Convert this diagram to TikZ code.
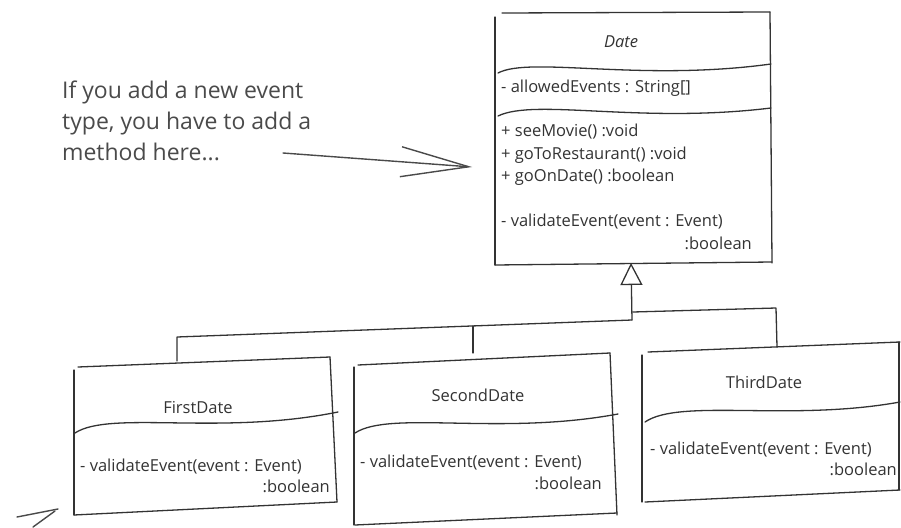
\documentclass[tikz,border=0pt]{standalone}
\usepackage{fontspec}
\setmainfont{Open Sans}
\usetikzlibrary{arrows.meta}
\definecolor{ink}{HTML}{333333}
\definecolor{pencil}{HTML}{4A4A4A}
\tikzset{
  stroke/.style={draw=ink, line width=1.3pt, line cap=round, line join=round},
  member/.style={inner sep=0pt, anchor=west, text=ink, font=\fontsize{16.5}{18}\selectfont},
  rtype/.style={inner sep=0pt, anchor=east, text=ink, font=\fontsize{16.5}{18}\selectfont},
  cname/.style={inner sep=0pt, text=ink, font=\fontsize{16.5}{18}\selectfont},
  note/.style={inner sep=0pt, anchor=west, text=pencil, font=\fontsize{23}{31}\selectfont, align=left},
}
\begin{document}
\begin{tikzpicture}[x=1pt,y=-1pt]
\useasboundingbox (0,0) rectangle (901,527);

% ---------- Date ----------
\draw[stroke] (502,13) -- (770,12);
\draw[stroke] (770,12) -- (772,263);
\draw[stroke] (495,265) -- (772,262);
\draw[stroke] (495,17) -- (495,265);
\draw[stroke] (498,73) .. controls (530,56) and (640,82) .. (771,64);
\draw[stroke] (498,116) .. controls (535,98) and (640,124) .. (771,108);
\node[cname, font=\fontsize{16.5}{18}\selectfont\itshape] (dtitle) at (621,42) {Date};
\node[member] (dattr) at (501,88) {- allowedEvents : String[]};
\node[member] (dm1) at (501,132) {+ seeMovie() :void};
\node[member] (dm2) at (501,155) {+ goToRestaurant() :void};
\node[member] (dm3) at (501,177) {+ goOnDate() :boolean};
\node[member] (dm4) at (501,222) {- validateEvent(event : Event)};
\node[rtype] (dm5) at (752,243) {:boolean};

% ---------- FirstDate ----------
\draw[stroke] (78,367) -- (330,357);
\draw[stroke] (330,357) -- (337,502);
\draw[stroke] (74,515) -- (337,502);
\draw[stroke] (74,370) -- (74,515);
\draw[stroke] (75,433) .. controls (110,410) and (220,436) .. (338,412);
\node[cname] (ftitle) at (198,408) {FirstDate};
\node[member] (fm1) at (80,467) {- validateEvent(event : Event)};
\node[rtype] (fm2) at (330,486) {:boolean};

% ---------- SecondDate ----------
\draw[stroke] (358,365) -- (610,353);
\draw[stroke] (610,353) -- (617,515);
\draw[stroke] (355,525) -- (617,513);
\draw[stroke] (354,367) -- (354,525);
\draw[stroke] (355,433) .. controls (390,410) and (500,436) .. (618,414);
\node[cname] (stitle) at (478,395) {SecondDate};
\node[member] (sm1) at (360,463) {- validateEvent(event : Event)};
\node[rtype] (sm2) at (602,483) {:boolean};

% ---------- ThirdDate ----------
\draw[stroke] (648,352) -- (900,342);
\draw[stroke] (642,355) -- (642,502);
\draw[stroke] (645,502) -- (900,490);
\draw[stroke] (899,342) -- (899,490);
\draw[stroke] (645,422) .. controls (680,398) and (790,422) .. (900,402);
\node[cname] (ttitle) at (764,382) {ThirdDate};
\node[member] (tm1) at (650,450) {- validateEvent(event : Event)};
\node[rtype] (tm2) at (897,469) {:boolean};

% ---------- generalisation ----------
\coordinate (apex) at (631,263);
\coordinate (stem) at (632,320);
\coordinate (fcorner) at (177,337);
\coordinate (ftop) at (177,361);
\coordinate (sjoin) at (473,326);
\coordinate (stop) at (473,353);
\coordinate (tstart) at (633,312);
\coordinate (tcorner) at (776,308);
\coordinate (ttop) at (777,347);
\draw[stroke, -{Triangle[open, length=22pt, width=22pt, line width=1.3pt]}] (stem) -- (apex);
\draw[stroke] (ftop) -- (fcorner) -- (stem);
\draw[stroke] (sjoin) -- (stop);
\draw[stroke] (tstart) -- (tcorner) -- (ttop);

% ---------- annotation ----------
\node[note] (note) at (62,121) {If you add a new event\\type, you have to add a\\method here...};
\coordinate (arrs) at (283,153);
\coordinate (arre) at (472,167);
\draw[draw=pencil, line width=1.4pt, line cap=round, -{Straight Barb[length=68pt, width=30pt, line width=1.4pt]}] (arrs) -- (arre);

% ---------- bottom-left arrow fragment ----------
\coordinate (b1) at (17,517);
\coordinate (b2) at (58,509);
\coordinate (b3) at (33,527);
\coordinate (b4) at (55,511);
\draw[draw=pencil, line width=1.4pt, line cap=round] (b1) -- (b2);
\draw[draw=pencil, line width=1.4pt, line cap=round] (b3) -- (b4);
\end{tikzpicture}
\end{document}
